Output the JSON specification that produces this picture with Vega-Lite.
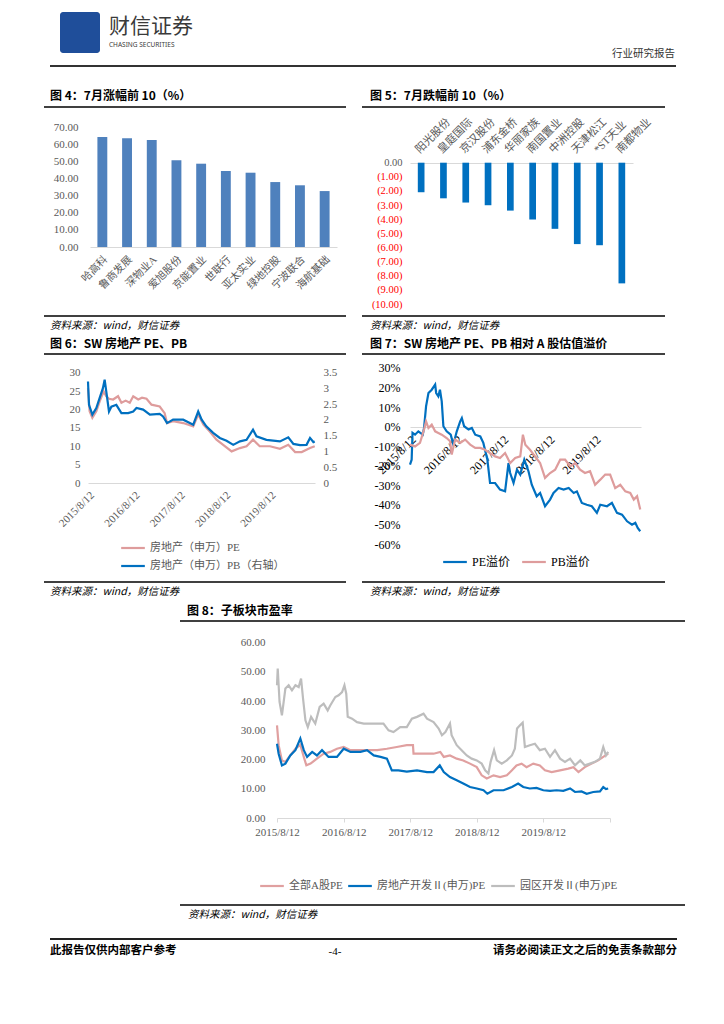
{
"$schema": "https://vega.github.io/schema/vega-lite/v6.json",
"padding": 0,
"background": "white",
"spacing": 0,
"bounds": "full",
"resolve": {"scale": {"color": "independent"}, "legend": {"color": "independent"}},
"config": {
  "view": {"stroke": null},
  "axis": {"labelFont": "Liberation Serif, Noto Sans CJK SC", "labelColor": "#595959", "labelFontSize": 11, "ticks": false, "domain": false, "grid": false, "labelOverlap": false, "labelFlush": false},
  "legend": {"labelFont": "Liberation Serif, Noto Sans CJK SC", "labelColor": "#595959", "labelFontSize": 11, "symbolType": "stroke", "symbolStrokeWidth": 2.5, "symbolSize": 560, "padding": 0, "labelOffset": 4},
  "title": {"font": "Noto Sans CJK SC", "fontSize": 12, "fontWeight": "bold", "color": "#000000", "anchor": "start", "frame": "group"},
  "line": {"strokeWidth": 2.2}
},
"datasets": {
  "top10": [{"n":"哈高科","v":64.7},{"n":"鲁商发展","v":63.9},{"n":"深物业A","v":63.0},{"n":"爱旭股份","v":51.0},{"n":"京能置业","v":49.0},{"n":"世联行","v":44.7},{"n":"亚太实业","v":43.7},{"n":"绿地控股","v":38.2},{"n":"宁波联合","v":36.3},{"n":"海航基础","v":32.9}],
  "bot10": [{"n":"阳光股份","v":-2.09},{"n":"皇庭国际","v":-2.52},{"n":"京汉股份","v":-2.82},{"n":"浦东金桥","v":-3.01},{"n":"华丽家族","v":-3.39},{"n":"南国置业","v":-4.02},{"n":"中洲控股","v":-4.68},{"n":"天津松江","v":-5.76},{"n":"*ST天业","v":-5.84},{"n":"南都物业","v":-8.54}],
  "f6pe": [{"d":"2015-08-12","v":25.8},{"d":"2015-08-25","v":19.5},{"d":"2015-09-16","v":17.7},{"d":"2015-10-18","v":19.5},{"d":"2015-11-14","v":22.2},{"d":"2015-12-16","v":24.9},{"d":"2016-01-06","v":23.6},{"d":"2016-01-28","v":22.9},{"d":"2016-03-01","v":22.7},{"d":"2016-04-10","v":23.6},{"d":"2016-05-07","v":21.8},{"d":"2016-06-10","v":22.4},{"d":"2016-07-13","v":21.8},{"d":"2016-08-10","v":23.6},{"d":"2016-09-19","v":22.7},{"d":"2016-10-20","v":23.2},{"d":"2016-11-25","v":22.9},{"d":"2017-01-04","v":21.3},{"d":"2017-03-11","v":20.8},{"d":"2017-04-20","v":19.0},{"d":"2017-05-09","v":16.3},{"d":"2017-06-27","v":16.8},{"d":"2017-09-16","v":16.3},{"d":"2017-12-06","v":15.4},{"d":"2018-01-15","v":18.6},{"d":"2018-02-26","v":15.9},{"d":"2018-04-18","v":14.0},{"d":"2018-06-11","v":11.8},{"d":"2018-08-04","v":10.4},{"d":"2018-10-11","v":8.6},{"d":"2018-12-17","v":9.5},{"d":"2019-02-08","v":10.0},{"d":"2019-04-01","v":11.8},{"d":"2019-05-25","v":10.0},{"d":"2019-08-15","v":10.0},{"d":"2019-11-04","v":9.3},{"d":"2020-01-10","v":10.4},{"d":"2020-03-05","v":8.4},{"d":"2020-04-27","v":8.4},{"d":"2020-07-03","v":9.5},{"d":"2020-08-10","v":10.0}],
  "f6pb": [{"d":"2015-08-12","v":3.22},{"d":"2015-08-20","v":2.48},{"d":"2015-09-16","v":2.17},{"d":"2015-10-18","v":2.38},{"d":"2015-11-14","v":2.70},{"d":"2015-12-10","v":3.01},{"d":"2015-12-24","v":3.28},{"d":"2016-01-06","v":2.91},{"d":"2016-01-28","v":2.27},{"d":"2016-02-16","v":2.42},{"d":"2016-03-27","v":2.48},{"d":"2016-05-07","v":2.22},{"d":"2016-06-30","v":2.22},{"d":"2016-08-10","v":2.27},{"d":"2016-09-05","v":2.38},{"d":"2016-10-29","v":2.33},{"d":"2016-12-22","v":2.17},{"d":"2017-03-11","v":2.19},{"d":"2017-04-07","v":2.11},{"d":"2017-05-09","v":1.90},{"d":"2017-06-27","v":2.01},{"d":"2017-09-16","v":2.01},{"d":"2017-12-06","v":1.85},{"d":"2018-01-15","v":2.27},{"d":"2018-02-12","v":2.01},{"d":"2018-03-21","v":1.80},{"d":"2018-05-15","v":1.59},{"d":"2018-07-08","v":1.43},{"d":"2018-08-31","v":1.34},{"d":"2018-10-24","v":1.21},{"d":"2018-12-17","v":1.32},{"d":"2019-02-08","v":1.37},{"d":"2019-04-01","v":1.69},{"d":"2019-04-29","v":1.48},{"d":"2019-07-18","v":1.37},{"d":"2019-11-04","v":1.32},{"d":"2020-01-10","v":1.45},{"d":"2020-02-20","v":1.24},{"d":"2020-04-13","v":1.20},{"d":"2020-06-05","v":1.21},{"d":"2020-07-03","v":1.43},{"d":"2020-07-30","v":1.30},{"d":"2020-08-10","v":1.32}],
  "f7pe": [{"d":"2015-08-12","v":-19.4},{"d":"2015-08-25","v":-16.9},{"d":"2015-09-01","v":-3.2},{"d":"2015-09-21","v":-4.1},{"d":"2015-10-17","v":-2.4},{"d":"2015-11-21","v":-4.1},{"d":"2015-12-01","v":-0.7},{"d":"2015-12-17","v":10.4},{"d":"2016-01-05","v":17.2},{"d":"2016-01-31","v":18.9},{"d":"2016-02-27","v":21.5},{"d":"2016-03-06","v":17.2},{"d":"2016-03-23","v":15.5},{"d":"2016-04-05","v":18.9},{"d":"2016-04-19","v":12.9},{"d":"2016-05-02","v":0.2},{"d":"2016-05-28","v":-2.4},{"d":"2016-06-29","v":-4.1},{"d":"2016-07-20","v":-9.2},{"d":"2016-08-16","v":-2.4},{"d":"2016-09-12","v":2.7},{"d":"2016-09-25","v":4.4},{"d":"2016-10-13","v":0.2},{"d":"2016-11-17","v":-1.5},{"d":"2016-12-13","v":-0.7},{"d":"2017-01-09","v":-4.1},{"d":"2017-02-18","v":-5.0},{"d":"2017-03-14","v":-8.3},{"d":"2017-04-15","v":-16.9},{"d":"2017-05-06","v":-28.8},{"d":"2017-06-15","v":-28.8},{"d":"2017-07-24","v":-32.2},{"d":"2017-09-02","v":-33.1},{"d":"2017-09-29","v":-18.6},{"d":"2017-10-12","v":-23.7},{"d":"2017-11-08","v":-28.8},{"d":"2017-12-05","v":-22.0},{"d":"2017-12-31","v":-24.5},{"d":"2018-02-01","v":-16.9},{"d":"2018-03-06","v":-22.8},{"d":"2018-04-01","v":-29.7},{"d":"2018-05-10","v":-35.6},{"d":"2018-06-06","v":-33.9},{"d":"2018-07-15","v":-40.7},{"d":"2018-08-24","v":-37.3},{"d":"2018-09-20","v":-33.9},{"d":"2018-10-30","v":-31.4},{"d":"2018-12-09","v":-32.2},{"d":"2019-01-18","v":-31.4},{"d":"2019-02-27","v":-33.9},{"d":"2019-03-24","v":-33.1},{"d":"2019-05-02","v":-39.0},{"d":"2019-06-10","v":-39.9},{"d":"2019-07-20","v":-40.7},{"d":"2019-08-29","v":-44.1},{"d":"2019-09-25","v":-39.9},{"d":"2019-11-17","v":-40.7},{"d":"2019-12-26","v":-39.0},{"d":"2020-02-04","v":-44.1},{"d":"2020-03-15","v":-45.0},{"d":"2020-04-24","v":-48.4},{"d":"2020-06-02","v":-50.1},{"d":"2020-06-28","v":-49.2},{"d":"2020-07-17","v":-51.8},{"d":"2020-08-06","v":-53.5}],
  "f7pb": [{"d":"2015-08-12","v":-9.2},{"d":"2015-09-21","v":-10.1},{"d":"2015-10-30","v":-8.3},{"d":"2015-12-01","v":-1.5},{"d":"2015-12-17","v":2.7},{"d":"2016-01-05","v":-0.7},{"d":"2016-01-31","v":1.0},{"d":"2016-02-27","v":-2.4},{"d":"2016-03-23","v":-3.2},{"d":"2016-04-19","v":-4.1},{"d":"2016-05-28","v":-5.8},{"d":"2016-06-24","v":-7.5},{"d":"2016-07-07","v":-14.3},{"d":"2016-08-03","v":-6.6},{"d":"2016-09-12","v":-8.3},{"d":"2016-10-21","v":-6.6},{"d":"2016-11-30","v":-9.2},{"d":"2017-01-09","v":-10.9},{"d":"2017-02-18","v":-10.9},{"d":"2017-03-27","v":-11.8},{"d":"2017-05-06","v":-13.5},{"d":"2017-06-15","v":-15.2},{"d":"2017-07-24","v":-16.0},{"d":"2017-09-02","v":-13.5},{"d":"2017-10-12","v":-18.6},{"d":"2017-11-21","v":-16.0},{"d":"2017-12-31","v":-15.2},{"d":"2018-01-21","v":-4.1},{"d":"2018-02-09","v":-9.2},{"d":"2018-03-18","v":-11.8},{"d":"2018-04-27","v":-15.2},{"d":"2018-06-06","v":-18.6},{"d":"2018-07-15","v":-26.2},{"d":"2018-08-24","v":-23.7},{"d":"2018-10-03","v":-22.0},{"d":"2018-11-12","v":-16.9},{"d":"2018-12-21","v":-16.9},{"d":"2019-01-31","v":-20.3},{"d":"2019-03-11","v":-18.6},{"d":"2019-04-18","v":-22.0},{"d":"2019-05-27","v":-23.7},{"d":"2019-07-06","v":-22.8},{"d":"2019-08-15","v":-29.7},{"d":"2019-09-25","v":-27.1},{"d":"2019-11-03","v":-24.5},{"d":"2019-12-12","v":-24.5},{"d":"2020-01-21","v":-31.4},{"d":"2020-03-01","v":-29.7},{"d":"2020-04-10","v":-33.1},{"d":"2020-05-19","v":-33.9},{"d":"2020-06-16","v":-37.3},{"d":"2020-07-12","v":-35.6},{"d":"2020-08-06","v":-42.4}],
  "f8a": [{"d":"2015-08-12","v":31.7},{"d":"2015-08-21","v":24.9},{"d":"2015-09-08","v":19.7},{"d":"2015-09-27","v":19.2},{"d":"2015-10-24","v":21.4},{"d":"2015-11-21","v":23.7},{"d":"2015-12-18","v":25.0},{"d":"2016-01-06","v":20.9},{"d":"2016-01-20","v":18.0},{"d":"2016-02-12","v":18.6},{"d":"2016-03-18","v":20.3},{"d":"2016-04-24","v":22.0},{"d":"2016-05-30","v":22.6},{"d":"2016-07-06","v":23.7},{"d":"2016-08-12","v":24.3},{"d":"2016-09-18","v":23.2},{"d":"2016-10-24","v":23.2},{"d":"2016-12-18","v":23.2},{"d":"2017-02-12","v":23.2},{"d":"2017-04-06","v":23.7},{"d":"2017-05-30","v":24.3},{"d":"2017-07-24","v":24.9},{"d":"2017-08-27","v":24.9},{"d":"2017-08-30","v":22.0},{"d":"2017-10-24","v":22.0},{"d":"2017-12-18","v":22.0},{"d":"2018-01-24","v":22.6},{"d":"2018-02-12","v":20.9},{"d":"2018-03-18","v":21.4},{"d":"2018-04-24","v":20.3},{"d":"2018-05-30","v":19.7},{"d":"2018-07-06","v":18.6},{"d":"2018-08-12","v":17.4},{"d":"2018-09-08","v":14.6},{"d":"2018-10-06","v":13.5},{"d":"2018-11-12","v":14.6},{"d":"2018-12-18","v":14.0},{"d":"2019-01-24","v":14.6},{"d":"2019-02-21","v":16.3},{"d":"2019-03-18","v":18.0},{"d":"2019-04-15","v":18.6},{"d":"2019-05-12","v":17.4},{"d":"2019-06-18","v":18.6},{"d":"2019-07-24","v":18.0},{"d":"2019-08-21","v":16.3},{"d":"2019-09-27","v":15.7},{"d":"2019-11-12","v":16.3},{"d":"2019-12-27","v":16.9},{"d":"2020-01-24","v":17.4},{"d":"2020-02-21","v":15.7},{"d":"2020-03-27","v":17.4},{"d":"2020-05-03","v":18.6},{"d":"2020-06-08","v":19.7},{"d":"2020-07-06","v":20.9},{"d":"2020-08-02","v":22.0}],
  "f8b": [{"d":"2015-08-12","v":25.4},{"d":"2015-08-21","v":22.0},{"d":"2015-09-08","v":18.0},{"d":"2015-09-27","v":18.6},{"d":"2015-10-24","v":21.4},{"d":"2015-11-21","v":23.2},{"d":"2015-12-18","v":27.2},{"d":"2016-01-06","v":23.2},{"d":"2016-01-24","v":20.9},{"d":"2016-02-21","v":22.6},{"d":"2016-03-18","v":21.4},{"d":"2016-04-15","v":23.2},{"d":"2016-05-21","v":20.9},{"d":"2016-07-06","v":20.9},{"d":"2016-08-12","v":23.7},{"d":"2016-09-18","v":22.6},{"d":"2016-11-12","v":22.6},{"d":"2016-12-18","v":23.2},{"d":"2017-01-24","v":21.4},{"d":"2017-03-02","v":20.9},{"d":"2017-04-06","v":20.3},{"d":"2017-05-03","v":16.3},{"d":"2017-06-08","v":16.3},{"d":"2017-07-24","v":15.9},{"d":"2017-09-18","v":16.3},{"d":"2017-11-12","v":15.7},{"d":"2017-12-18","v":15.7},{"d":"2018-01-21","v":18.0},{"d":"2018-02-12","v":15.7},{"d":"2018-03-18","v":14.0},{"d":"2018-04-24","v":12.9},{"d":"2018-05-30","v":11.8},{"d":"2018-07-06","v":10.6},{"d":"2018-08-12","v":10.1},{"d":"2018-09-18","v":9.5},{"d":"2018-10-09","v":8.3},{"d":"2018-11-12","v":9.5},{"d":"2019-01-06","v":9.5},{"d":"2019-02-21","v":10.6},{"d":"2019-03-27","v":11.8},{"d":"2019-04-24","v":10.6},{"d":"2019-05-30","v":10.1},{"d":"2019-07-06","v":10.3},{"d":"2019-08-12","v":9.5},{"d":"2019-09-18","v":9.3},{"d":"2019-10-24","v":9.5},{"d":"2019-11-30","v":9.3},{"d":"2020-01-06","v":10.1},{"d":"2020-02-02","v":8.9},{"d":"2020-03-09","v":9.1},{"d":"2020-04-06","v":8.3},{"d":"2020-05-12","v":8.9},{"d":"2020-06-18","v":9.1},{"d":"2020-07-06","v":10.6},{"d":"2020-07-21","v":9.9},{"d":"2020-08-02","v":10.1}],
  "f8c": [{"d":"2015-08-12","v":45.4},{"d":"2015-08-16","v":51.1},{"d":"2015-08-26","v":39.7},{"d":"2015-09-08","v":35.1},{"d":"2015-09-27","v":44.3},{"d":"2015-10-15","v":45.4},{"d":"2015-11-02","v":43.7},{"d":"2015-11-21","v":45.4},{"d":"2015-12-09","v":44.8},{"d":"2015-12-22","v":47.7},{"d":"2016-01-02","v":40.8},{"d":"2016-01-15","v":33.4},{"d":"2016-01-28","v":31.1},{"d":"2016-02-15","v":34.6},{"d":"2016-03-09","v":32.3},{"d":"2016-04-02","v":38.0},{"d":"2016-04-24","v":39.1},{"d":"2016-05-16","v":36.8},{"d":"2016-05-30","v":38.5},{"d":"2016-06-27","v":41.4},{"d":"2016-07-15","v":42.0},{"d":"2016-08-03","v":43.1},{"d":"2016-08-16","v":45.4},{"d":"2016-08-26","v":42.5},{"d":"2016-09-03","v":34.6},{"d":"2016-09-27","v":34.0},{"d":"2016-10-24","v":32.8},{"d":"2016-11-30","v":32.3},{"d":"2017-01-06","v":32.3},{"d":"2017-02-12","v":32.3},{"d":"2017-03-18","v":32.3},{"d":"2017-04-15","v":30.0},{"d":"2017-05-12","v":29.4},{"d":"2017-06-18","v":31.1},{"d":"2017-07-24","v":31.1},{"d":"2017-08-21","v":34.0},{"d":"2017-09-18","v":34.6},{"d":"2017-10-24","v":35.7},{"d":"2017-11-12","v":34.0},{"d":"2017-12-18","v":32.8},{"d":"2018-01-15","v":30.6},{"d":"2018-02-02","v":28.3},{"d":"2018-02-21","v":29.4},{"d":"2018-03-18","v":32.3},{"d":"2018-03-27","v":28.3},{"d":"2018-04-24","v":24.9},{"d":"2018-05-21","v":23.2},{"d":"2018-06-18","v":21.4},{"d":"2018-07-15","v":20.3},{"d":"2018-08-12","v":19.7},{"d":"2018-09-08","v":18.6},{"d":"2018-09-27","v":16.3},{"d":"2018-10-15","v":15.2},{"d":"2018-10-27","v":19.2},{"d":"2018-11-15","v":23.2},{"d":"2018-11-30","v":19.7},{"d":"2018-12-27","v":18.6},{"d":"2019-01-24","v":19.7},{"d":"2019-02-21","v":21.4},{"d":"2019-03-09","v":23.7},{"d":"2019-03-21","v":30.6},{"d":"2019-04-06","v":31.7},{"d":"2019-04-21","v":32.6},{"d":"2019-05-03","v":24.3},{"d":"2019-05-30","v":24.9},{"d":"2019-06-27","v":25.4},{"d":"2019-07-24","v":23.2},{"d":"2019-08-21","v":23.7},{"d":"2019-09-18","v":20.9},{"d":"2019-10-15","v":23.2},{"d":"2019-11-12","v":20.3},{"d":"2019-12-09","v":19.2},{"d":"2020-01-06","v":20.3},{"d":"2020-02-02","v":18.0},{"d":"2020-03-02","v":19.7},{"d":"2020-03-27","v":18.0},{"d":"2020-04-24","v":18.6},{"d":"2020-05-21","v":19.2},{"d":"2020-06-18","v":20.3},{"d":"2020-07-06","v":24.3},{"d":"2020-07-21","v":21.4},{"d":"2020-08-02","v":22.6}]
},
"vconcat": [
  {"width": 724, "height": 12, "data": {"values": []}, "mark": "point"},
  {"hconcat": [
    {"width": 60, "height": 48, "data": {"values": []}, "mark": "point"},
    {"width": 40, "height": 41, "data": {"values": []}, "mark": "point", "view": {"fill": "#1F4E9A", "cornerRadius": 3}},
    {"width": 9, "height": 48, "data": {"values": []}, "mark": "point"},
    {"width": 439, "height": 48, "data": {"values": []}, "mark": "point", "title": {"text": "财信证券", "subtitle": "CHASING SECURITIES", "fontSize": 21, "fontWeight": "normal", "color": "#3a3a3a", "subtitleFont": "Noto Sans", "subtitleFontSize": 6.5, "subtitleColor": "#3a3a3a", "subtitlePadding": 5, "offset": -36}},
    {"width": 127, "height": 48, "data": {"values": []}, "mark": "point", "title": {"text": "行业研究报告", "anchor": "end", "fontSize": 10.5, "fontWeight": "normal", "color": "#333333", "offset": -47.5}}
  ], "spacing": 0, "bounds": "flush"},
  {"width": 724, "height": 5, "data": {"values": []}, "mark": "point"},
  {"hconcat": [
    {"width": 50, "height": 2, "data": {"values": []}, "mark": "point"},
    {"width": 626, "height": 2, "data": {"values": []}, "mark": "point", "view": {"fill": "#333333"}}
  ], "spacing": 0, "bounds": "flush"},
  {"width": 724, "height": 23, "data": {"values": []}, "mark": "point"},
  {"hconcat": [
    {"width": 44, "height": 16, "data": {"values": []}, "mark": "point"},
    {"width": 302, "height": 16, "data": {"values": []}, "mark": "point", "title": {"text": "图 4：7月涨幅前 10（%）", "dx": 6, "offset": -13}},
    {"width": 16, "height": 16, "data": {"values": []}, "mark": "point"},
    {"width": 303, "height": 16, "data": {"values": []}, "mark": "point", "title": {"text": "图 5：7月跌幅前 10（%）", "dx": 8, "offset": -13}}
  ], "spacing": 0, "bounds": "flush"},
  {"hconcat": [
    {"width": 44, "height": 2, "data": {"values": []}, "mark": "point"},
    {"width": 302, "height": 2, "data": {"values": []}, "mark": "point", "view": {"fill": "#404040"}},
    {"width": 16, "height": 2, "data": {"values": []}, "mark": "point"},
    {"width": 303, "height": 2, "data": {"values": []}, "mark": "point", "view": {"fill": "#404040"}}
  ], "spacing": 0, "bounds": "flush"},
  {"hconcat": [
    {"width": 90, "height": 207, "data": {"values": []}, "mark": "point"},
    {"width": 247, "height": 139, "data": {"name": "top10"},
     "mark": {"type": "bar", "color": "#4F81BD"},
     "encoding": {
       "x": {"field": "n", "type": "nominal", "sort": null, "title": null, "scale": {"paddingInner": 0.6, "paddingOuter": 0.3},
             "axis": {"labelAngle": -45, "labelAlign": "right", "labelBaseline": "top", "labelPadding": 7, "labelFontSize": 10.5, "domain": true, "domainColor": "#d9d9d9"}},
       "y": {"field": "v", "type": "quantitative", "title": null, "scale": {"domain": [0, 81.76], "nice": false},
             "axis": {"values": [0,10,20,30,40,50,60,70], "format": ".2f", "labelPadding": 12}}
     }},
    {"width": 73, "height": 207, "data": {"values": []}, "mark": "point"},
    {"width": 223, "height": 207, "data": {"name": "bot10"},
     "mark": {"type": "bar", "color": "#0070C0"},
     "encoding": {
       "x": {"field": "n", "type": "nominal", "sort": null, "title": null, "scale": {"paddingInner": 0.7, "paddingOuter": 0.35},
             "axis": {"orient": "top", "offset": -54.7, "labelAngle": -45, "labelAlign": "left", "labelBaseline": "bottom", "labelPadding": 8, "labelFontSize": 11}},
       "y": {"field": "v", "type": "quantitative", "title": null, "scale": {"domain": [-10.778, 3.871], "nice": false, "zero": false},
             "axis": {"values": [-10,-9,-8,-7,-6,-5,-4,-3,-2,-1,0], "labelExpr": "datum.value < 0 ? '(' + format(-datum.value, '.2f') + ')' : format(datum.value, '.2f')", "labelColor": {"condition": {"test": "datum.value < 0", "value": "#FF0000"}, "value": "#595959"}, "labelPadding": 8, "labelFontSize": 10.5, "grid": true, "gridColor": "#d9d9d9", "gridOpacity": {"condition": {"test": "datum.value === 0", "value": 1}, "value": 0}}}
     }},
    {"width": 91, "height": 207, "data": {"values": []}, "mark": "point"}
  ], "spacing": 0, "bounds": "flush"},
  {"hconcat": [
    {"width": 44, "height": 2, "data": {"values": []}, "mark": "point"},
    {"width": 302, "height": 2, "data": {"values": []}, "mark": "point", "view": {"fill": "#404040"}},
    {"width": 16, "height": 2, "data": {"values": []}, "mark": "point"},
    {"width": 303, "height": 2, "data": {"values": []}, "mark": "point", "view": {"fill": "#404040"}}
  ], "spacing": 0, "bounds": "flush"},
  {"hconcat": [
    {"width": 44, "height": 20, "data": {"values": []}, "mark": "point"},
    {"width": 302, "height": 20, "data": {"values": []}, "mark": "point", "title": {"text": "资料来源：wind，财信证券", "dx": 6, "offset": -14.25, "fontSize": 10.5, "fontWeight": "normal", "fontStyle": "italic"}},
    {"width": 16, "height": 20, "data": {"values": []}, "mark": "point"},
    {"width": 303, "height": 20, "data": {"values": []}, "mark": "point", "title": {"text": "资料来源：wind，财信证券", "dx": 8, "offset": -14.25, "fontSize": 10.5, "fontWeight": "normal", "fontStyle": "italic"}}
  ], "spacing": 0, "bounds": "flush"},
  {"hconcat": [
    {"width": 44, "height": 16, "data": {"values": []}, "mark": "point"},
    {"width": 302, "height": 16, "data": {"values": []}, "mark": "point", "title": {"text": "图 6：SW 房地产 PE、PB", "dx": 6, "offset": -14}},
    {"width": 16, "height": 16, "data": {"values": []}, "mark": "point"},
    {"width": 303, "height": 16, "data": {"values": []}, "mark": "point", "title": {"text": "图 7：SW 房地产 PE、PB 相对 A 股估值溢价", "dx": 8, "offset": -14}}
  ], "spacing": 0, "bounds": "flush"},
  {"hconcat": [
    {"width": 44, "height": 2, "data": {"values": []}, "mark": "point"},
    {"width": 302, "height": 2, "data": {"values": []}, "mark": "point", "view": {"fill": "#404040"}},
    {"width": 16, "height": 2, "data": {"values": []}, "mark": "point"},
    {"width": 303, "height": 2, "data": {"values": []}, "mark": "point", "view": {"fill": "#404040"}}
  ], "spacing": 0, "bounds": "flush"},
  {"hconcat": [
    {"width": 88, "height": 226, "data": {"values": []}, "mark": "point"},
    {"width": 227, "height": 128,
     "encoding": {
       "x": {"field": "d", "type": "temporal", "title": null,
             "scale": {"type": "utc", "domain": [{"year": 2015, "month": 8, "date": 12, "utc": true}, {"year": 2020, "month": 8, "date": 12, "utc": true}]},
             "axis": {"values": [{"year": 2015, "month": 8, "date": 12, "utc": true}, {"year": 2016, "month": 8, "date": 12, "utc": true}, {"year": 2017, "month": 8, "date": 12, "utc": true}, {"year": 2018, "month": 8, "date": 12, "utc": true}, {"year": 2019, "month": 8, "date": 12, "utc": true}],
                      "labelExpr": "utcFormat(datum.value, '%Y/%-m/%-d')", "labelAngle": -45, "labelAlign": "right", "labelBaseline": "top", "labelPadding": 6, "domain": true, "domainColor": "#d9d9d9"}}
     },
     "layer": [
       {"data": {"name": "f6pe"}, "mark": {"type": "line", "strokeWidth": 2.2},
        "encoding": {
          "y": {"field": "v", "type": "quantitative", "title": null, "scale": {"domain": [0, 34.81], "nice": false},
                "axis": {"values": [0,5,10,15,20,25,30], "labelExpr": "toString(datum.value)", "labelPadding": 8}},
          "color": {"datum": "房地产（申万）PE", "scale": {"domain": ["房地产（申万）PE", "房地产（申万）PB（右轴）"], "range": ["#DE9C9C", "#0070C0"]},
                    "legend": {"title": null, "orient": "none", "legendX": 32, "legendY": 180, "direction": "vertical", "rowPadding": -7}}
        }},
       {"data": {"name": "f6pb"}, "mark": {"type": "line", "strokeWidth": 2.2},
        "encoding": {
          "y": {"field": "v", "type": "quantitative", "title": null, "scale": {"domain": [0, 4.061], "nice": false},
                "axis": {"orient": "right", "values": [0,0.5,1,1.5,2,2.5,3,3.5], "labelExpr": "toString(datum.value)", "labelPadding": 8}},
          "color": {"datum": "房地产（申万）PB（右轴）", "scale": {"domain": ["房地产（申万）PE", "房地产（申万）PB（右轴）"], "range": ["#DE9C9C", "#0070C0"]},
                    "legend": {"title": null, "orient": "none", "legendX": 32, "legendY": 180, "direction": "vertical", "rowPadding": -7}}
        }}
     ],
     "resolve": {"scale": {"y": "independent"}}},
    {"width": 95, "height": 226, "data": {"values": []}, "mark": "point"},
    {"width": 231, "height": 189,
     "encoding": {
       "x": {"field": "d", "type": "temporal", "title": null,
             "scale": {"type": "utc", "domain": [{"year": 2015, "month": 8, "date": 12, "utc": true}, {"year": 2020, "month": 8, "date": 12, "utc": true}]},
             "axis": {"values": [{"year": 2015, "month": 8, "date": 12, "utc": true}, {"year": 2016, "month": 8, "date": 12, "utc": true}, {"year": 2017, "month": 8, "date": 12, "utc": true}, {"year": 2018, "month": 8, "date": 12, "utc": true}, {"year": 2019, "month": 8, "date": 12, "utc": true}],
                      "labelExpr": "utcFormat(datum.value, '%Y/%-m/%-d')", "offset": -117.4, "labelAngle": -45, "labelAlign": "right", "labelBaseline": "top", "labelPadding": 7, "labelFontSize": 12, "labelColor": "#000000"}},
       "y": {"field": "v", "type": "quantitative", "title": null, "scale": {"domain": [-60, 36.63], "nice": false, "zero": false},
             "axis": {"values": [-60,-50,-40,-30,-20,-10,0,10,20,30], "labelExpr": "(datum.value < 0 ? '-' : '') + abs(datum.value) + '%'", "labelColor": "#000000", "labelFontSize": 12, "labelPadding": 10, "grid": true, "gridColor": "#d9d9d9", "gridOpacity": {"condition": {"test": "datum.value === 0", "value": 1}, "value": 0}}},
       "color": {"scale": {"domain": ["PE溢价", "PB溢价"], "range": ["#0070C0", "#DE9C9C"]},
                 "legend": {"title": null, "orient": "none", "legendX": 32, "legendY": 194, "direction": "horizontal", "columnPadding": 6, "labelFontSize": 12, "labelColor": "#000000"}}
     },
     "layer": [
       {"data": {"name": "f7pe"}, "mark": {"type": "line", "strokeWidth": 2.2}, "encoding": {"color": {"datum": "PE溢价"}}},
       {"data": {"name": "f7pb"}, "mark": {"type": "line", "strokeWidth": 2.2}, "encoding": {"color": {"datum": "PB溢价"}}}
     ]},
    {"width": 83, "height": 226, "data": {"values": []}, "mark": "point"}
  ], "spacing": 0, "bounds": "flush", "resolve": {"scale": {"color": "independent"}, "legend": {"color": "independent"}}},
  {"hconcat": [
    {"width": 44, "height": 2, "data": {"values": []}, "mark": "point"},
    {"width": 302, "height": 2, "data": {"values": []}, "mark": "point", "view": {"fill": "#404040"}},
    {"width": 16, "height": 2, "data": {"values": []}, "mark": "point"},
    {"width": 303, "height": 2, "data": {"values": []}, "mark": "point", "view": {"fill": "#404040"}}
  ], "spacing": 0, "bounds": "flush"},
  {"hconcat": [
    {"width": 44, "height": 18, "data": {"values": []}, "mark": "point"},
    {"width": 302, "height": 18, "data": {"values": []}, "mark": "point", "title": {"text": "资料来源：wind，财信证券", "dx": 6, "offset": -14.25, "fontSize": 10.5, "fontWeight": "normal", "fontStyle": "italic"}},
    {"width": 16, "height": 18, "data": {"values": []}, "mark": "point"},
    {"width": 303, "height": 18, "data": {"values": []}, "mark": "point", "title": {"text": "资料来源：wind，财信证券", "dx": 8, "offset": -14.25, "fontSize": 10.5, "fontWeight": "normal", "fontStyle": "italic"}}
  ], "spacing": 0, "bounds": "flush"},
  {"hconcat": [
    {"width": 180, "height": 19, "data": {"values": []}, "mark": "point"},
    {"width": 505, "height": 19, "data": {"values": []}, "mark": "point", "title": {"text": "图 8：子板块市盈率", "dx": 7, "offset": -17}}
  ], "spacing": 0, "bounds": "flush"},
  {"hconcat": [
    {"width": 180, "height": 2, "data": {"values": []}, "mark": "point"},
    {"width": 505, "height": 2, "data": {"values": []}, "mark": "point", "view": {"fill": "#404040"}}
  ], "spacing": 0, "bounds": "flush"},
  {"hconcat": [
    {"width": 277, "height": 282, "data": {"values": []}, "mark": "point"},
    {"width": 333, "height": 196,
     "encoding": {
       "x": {"field": "d", "type": "temporal", "title": null,
             "scale": {"type": "utc", "domain": [{"year": 2015, "month": 8, "date": 12, "utc": true}, {"year": 2020, "month": 8, "date": 12, "utc": true}]},
             "axis": {"values": [{"year": 2015, "month": 8, "date": 12, "utc": true}, {"year": 2016, "month": 8, "date": 12, "utc": true}, {"year": 2017, "month": 8, "date": 12, "utc": true}, {"year": 2018, "month": 8, "date": 12, "utc": true}, {"year": 2019, "month": 8, "date": 12, "utc": true}, {"year": 2020, "month": 8, "date": 12, "utc": true}],
                      "labelExpr": "utcyear(datum.value) >= 2020 ? '' : utcFormat(datum.value, '%Y/%-m/%-d')", "labelAngle": 0, "labelPadding": 4, "domain": true, "domainColor": "#d9d9d9", "ticks": true, "tickColor": "#d9d9d9", "tickSize": 4}},
       "y": {"field": "v", "type": "quantitative", "title": null, "scale": {"domain": [0, 67.05], "nice": false},
             "axis": {"values": [0,10,20,30,40,50,60], "format": ".2f", "labelPadding": 12}},
       "color": {"scale": {"domain": ["全部A股PE", "房地产开发Ⅱ(申万)PE", "园区开发Ⅱ(申万)PE"], "range": ["#E0A0A0", "#0070C0", "#BDBDBD"]},
                 "legend": {"title": null, "orient": "none", "legendX": -18, "legendY": 251, "direction": "horizontal", "columnPadding": 0}}
     },
     "layer": [
       {"data": {"name": "f8a"}, "mark": {"type": "line", "strokeWidth": 2.2}, "encoding": {"color": {"datum": "全部A股PE"}}},
       {"data": {"name": "f8b"}, "mark": {"type": "line", "strokeWidth": 2.2}, "encoding": {"color": {"datum": "房地产开发Ⅱ(申万)PE"}}},
       {"data": {"name": "f8c"}, "mark": {"type": "line", "strokeWidth": 2.2}, "encoding": {"color": {"datum": "园区开发Ⅱ(申万)PE"}}}
     ]}
  ], "spacing": 0, "bounds": "flush", "resolve": {"scale": {"color": "independent"}, "legend": {"color": "independent"}}},
  {"hconcat": [
    {"width": 180, "height": 2, "data": {"values": []}, "mark": "point"},
    {"width": 505, "height": 2, "data": {"values": []}, "mark": "point", "view": {"fill": "#404040"}}
  ], "spacing": 0, "bounds": "flush"},
  {"hconcat": [
    {"width": 180, "height": 20, "data": {"values": []}, "mark": "point"},
    {"width": 505, "height": 20, "data": {"values": []}, "mark": "point", "title": {"text": "资料来源：wind，财信证券", "dx": 8, "offset": -14.25, "fontSize": 10.5, "fontWeight": "normal", "fontStyle": "italic"}}
  ], "spacing": 0, "bounds": "flush"},
  {"width": 724, "height": 12, "data": {"values": []}, "mark": "point"},
  {"hconcat": [
    {"width": 50, "height": 2, "data": {"values": []}, "mark": "point"},
    {"width": 627, "height": 2, "data": {"values": []}, "mark": "point", "view": {"fill": "#222222"}}
  ], "spacing": 0, "bounds": "flush"},
  {"hconcat": [
    {"width": 50, "height": 22, "data": {"values": []}, "mark": "point"},
    {"width": 260, "height": 22, "data": {"values": []}, "mark": "point", "title": {"text": "此报告仅供内部客户参考", "fontSize": 11.5, "offset": -16.75}},
    {"width": 50, "height": 22, "data": {"values": []}, "mark": "point", "title": {"text": "-4-", "anchor": "middle", "font": "Liberation Serif", "fontSize": 11, "fontWeight": "normal", "offset": -16.5}},
    {"width": 317, "height": 22, "data": {"values": []}, "mark": "point", "title": {"text": "请务必阅读正文之后的免责条款部分", "anchor": "end", "fontSize": 11.5, "offset": -16.75}}
  ], "spacing": 0, "bounds": "flush"}
]
}
